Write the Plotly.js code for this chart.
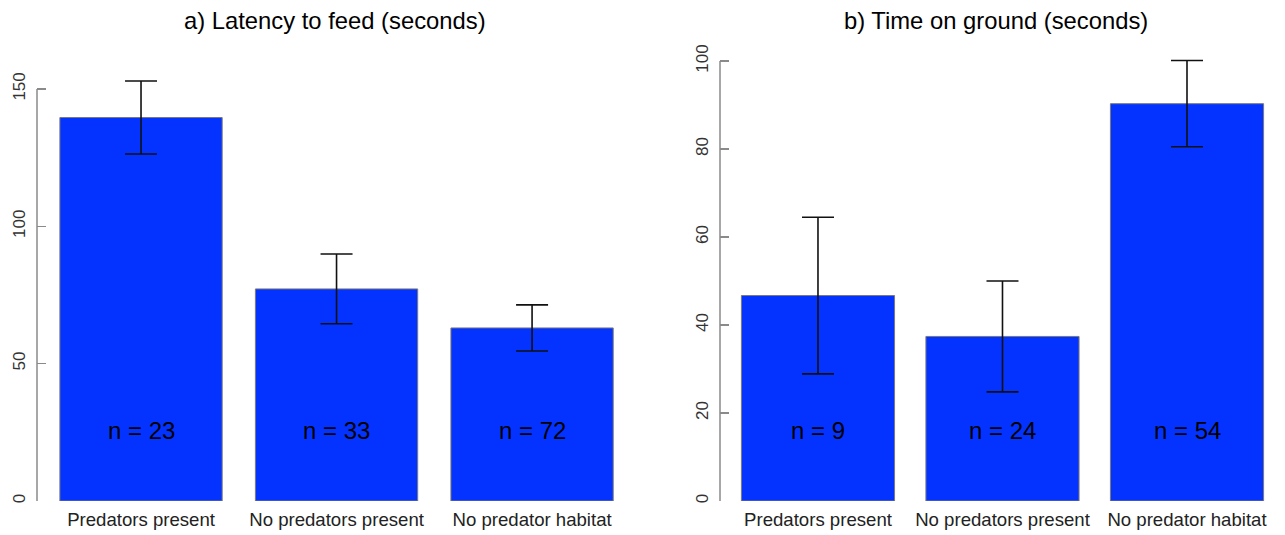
<!DOCTYPE html>
<html>
<head>
<meta charset="utf-8">
<script src="https://cdn.plot.ly/plotly-3.0.1.min.js"></script>
<style>html,body{margin:0;padding:0;background:#fff;}#chart{width:1285px;height:535px;}</style>
</head>
<body>
<div id="chart"></div>
<script>
// ---- data ----
var categories = ["Predators present", "No predators present", "No predator habitat"];
var latencyMean = [139.6, 77.2, 63.0];
var latencySE = [13.3, 12.7, 8.4];
var latencyN = [23, 33, 72];
var groundMean = [46.7, 37.4, 90.3];
var groundSE = [17.8, 12.6, 9.8];
var groundN = [9, 24, 54];
var titleA = "a) Latency to feed (seconds)";
var titleB = "b) Time on ground (seconds)";
var ticksA = [0, 50, 100, 150];
var ticksB = [0, 20, 40, 60, 80, 100];

var W = 1285, H = 535;
var FONT = "Liberation Sans, Arial, Helvetica, sans-serif";
var BLUE = "#0433FF";

function barTrace(means, se, xa, ya) {
  return {
    type: "bar", x: categories, y: means, xaxis: xa, yaxis: ya,
    marker: {color: BLUE, line: {color: "#7a7a7a", width: 1}},
    error_y: {type: "data", array: se, visible: true, color: "#111", thickness: 1.6, width: 16},
    hoverinfo: "skip", showlegend: false
  };
}

var traces = [
  barTrace(latencyMean, latencySE, "x", "y"),
  barTrace(groundMean, groundSE, "x2", "y2")
];

var annotations = [];
function nLabels(ns, xa) {
  ns.forEach(function (n, i) {
    annotations.push({xref: xa, yref: "paper", x: categories[i], y: 0.152, text: "n = " + n,
      showarrow: false, font: {family: FONT, size: 24, color: "#000"}, xanchor: "center", yanchor: "middle"});
  });
}
nLabels(latencyN, "x");
nLabels(groundN, "x2");
annotations.push({xref: "paper", yref: "paper", x: 335 / W, y: 1 + 20 / 461, text: titleA, showarrow: false,
  font: {family: FONT, size: 23.8, color: "#000"}, xanchor: "center", yanchor: "middle"});
annotations.push({xref: "paper", yref: "paper", x: 995.5 / W, y: 1 + 20 / 461, text: titleB, showarrow: false,
  font: {family: FONT, size: 23.8, color: "#000"}, xanchor: "center", yanchor: "middle"});

function yAxis(vals, top) {
  return {
    domain: [0, 1], range: [0, top], tickvals: vals, ticktext: vals.map(String),
    ticks: "inside", ticklen: 9, tickwidth: 1.5, tickcolor: "#8a8a8a",
    tickangle: -90, tickfont: {family: FONT, size: 17, color: "#333"}, ticklabelstandoff: 8,
    showline: false, showgrid: false, zeroline: false, fixedrange: true
  };
}
function xAxis(dom, range, anchor) {
  return {
    domain: dom, range: range, anchor: anchor, type: "category",
    showline: false, showgrid: false, zeroline: false, ticks: "", ticklabelstandoff: 5,
    tickfont: {family: FONT, size: 18.6, color: "#222"}, fixedrange: true
  };
}

var yA = yAxis(ticksA, 461 / 2.747);
var yB = yAxis(ticksB, 461 / 4.4);
yA.anchor = "x";
yB.anchor = "x2";

var layout = {
  width: W, height: H,
  margin: {l: 0, r: 0, t: 40, b: 34},
  paper_bgcolor: "#fff", plot_bgcolor: "rgba(0,0,0,0)",
  bargap: 0.17,
  xaxis: xAxis([37 / W, 640 / W], [-0.532, 2.552], "y"),
  yaxis: yA,
  xaxis2: xAxis([720 / W, 1280 / W], [-0.531, 2.504], "y2"),
  yaxis2: yB,
  annotations: annotations,
  shapes: [
    {type: "line", xref: "x domain", yref: "y", x0: 0, x1: 0, y0: ticksA[0], y1: ticksA[ticksA.length - 1],
      line: {color: "#8a8a8a", width: 1.5}},
    {type: "line", xref: "x2 domain", yref: "y2", x0: 0, x1: 0, y0: ticksB[0], y1: ticksB[ticksB.length - 1],
      line: {color: "#8a8a8a", width: 1.5}}
  ]
};

Plotly.newPlot("chart", traces, layout, {displayModeBar: false, staticPlot: true});
</script>
</body>
</html>
